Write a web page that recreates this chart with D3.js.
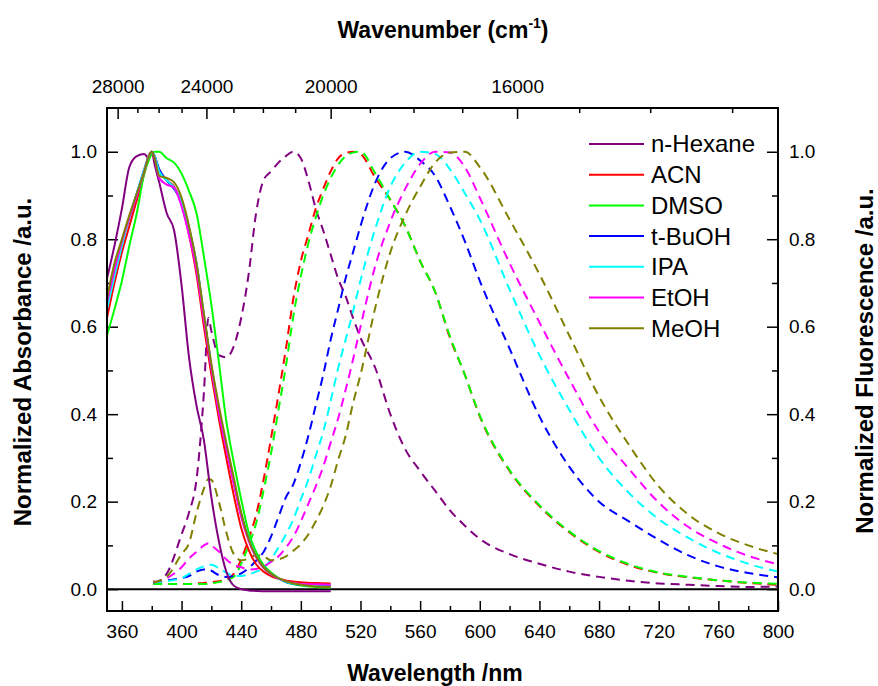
<!DOCTYPE html>
<html>
<head>
<meta charset="utf-8">
<script src="https://cdn.jsdelivr.net/npm/d3@7"></script>
<style>
  body { margin: 0; background: #fff; }
  text { font-family: "Liberation Sans", Arial, sans-serif; fill: #000; }
  .tick text { font-size: 19px; }
  .tick line { stroke: #000; stroke-width: 1.5; }
</style>
</head>
<body>
<div id="chart"></div>
<script>
// solvents and their line colours
const solvents = ["n-Hexane", "ACN", "DMSO", "t-BuOH", "IPA", "EtOH", "MeOH"];
const solventColors = ["#800080", "#ff0000", "#00ff00", "#0000ff", "#00ffff", "#ff00ff", "#808000"];

// absorbance (solid lines), wavelength in nm
const absWl = [350, 355, 360, 365, 370, 375, 378, 380, 382, 385, 390, 395, 400, 405, 410, 415, 420, 425, 430, 435, 440, 445, 450, 455, 460, 470, 480, 490, 500];
const absHexane = [0.71, 0.785, 0.87, 0.965, 0.99, 0.995, 0.985, 1.0, 0.97, 0.93, 0.86, 0.82, 0.695, 0.53, 0.42, 0.34, 0.21, 0.11, 0.04, 0.008, 0.0, -0.003, -0.004, -0.005, -0.005, -0.005, -0.005, -0.005, -0.005];
const absACN = [0.62, 0.70, 0.77, 0.83, 0.89, 0.95, 0.99, 1.0, 0.985, 0.955, 0.935, 0.92, 0.88, 0.81, 0.72, 0.6, 0.49, 0.39, 0.3, 0.215, 0.14, 0.09, 0.057, 0.04, 0.03, 0.02, 0.016, 0.014, 0.013];
const absDMSO = [0.58, 0.64, 0.705, 0.785, 0.86, 0.95, 0.98, 0.995, 1.0, 1.0, 0.985, 0.975, 0.95, 0.91, 0.86, 0.76, 0.65, 0.52, 0.385, 0.29, 0.205, 0.13, 0.085, 0.055, 0.038, 0.016, 0.008, 0.005, 0.004];
const absTBuOH = [0.645, 0.72, 0.79, 0.85, 0.905, 0.96, 0.99, 1.0, 0.99, 0.96, 0.935, 0.915, 0.885, 0.825, 0.745, 0.625, 0.51, 0.41, 0.325, 0.245, 0.17, 0.115, 0.075, 0.05, 0.035, 0.016, 0.01, 0.008, 0.007];
const absIPA = [0.64, 0.715, 0.785, 0.85, 0.905, 0.96, 0.99, 1.0, 0.99, 0.955, 0.935, 0.918, 0.885, 0.825, 0.745, 0.625, 0.51, 0.41, 0.325, 0.245, 0.172, 0.117, 0.076, 0.05, 0.035, 0.016, 0.01, 0.007, 0.006];
const absEtOH = [0.655, 0.73, 0.795, 0.85, 0.9, 0.955, 0.99, 1.0, 0.985, 0.94, 0.925, 0.918, 0.875, 0.81, 0.73, 0.615, 0.505, 0.405, 0.32, 0.24, 0.165, 0.11, 0.072, 0.048, 0.034, 0.018, 0.012, 0.011, 0.01];
const absMeOH = [0.665, 0.745, 0.8, 0.855, 0.905, 0.955, 0.99, 1.0, 0.985, 0.945, 0.94, 0.93, 0.895, 0.83, 0.745, 0.63, 0.515, 0.42, 0.335, 0.255, 0.175, 0.115, 0.075, 0.05, 0.035, 0.018, 0.01, 0.006, 0.005];

// fluorescence (dashed lines)
const emWl = [381, 390, 400, 405, 410, 415, 418, 420, 425, 430, 435, 440, 445, 450, 455, 460, 465, 470, 475, 480, 485, 490, 495, 500, 505, 510, 515, 520, 530, 540, 550, 560, 570, 580, 590, 600, 620, 640, 660, 680, 700, 720, 740, 760, 780, 800];
const emHexane = [0.012, 0.035, 0.125, 0.175, 0.25, 0.45, 0.62, 0.59, 0.535, 0.53, 0.555, 0.62, 0.72, 0.86, 0.935, 0.955, 0.975, 0.99, 1.0, 0.985, 0.935, 0.87, 0.82, 0.765, 0.71, 0.67, 0.62, 0.575, 0.505, 0.4, 0.32, 0.27, 0.225, 0.18, 0.145, 0.115, 0.08, 0.058, 0.04, 0.028, 0.019, 0.013, 0.01, 0.007, 0.005, 0.006];
const emACN = [0.018, 0.012, 0.012, 0.012, 0.013, 0.014, 0.015, 0.016, 0.018, 0.022, 0.035, 0.068, 0.115, 0.17, 0.25, 0.345, 0.445, 0.55, 0.665, 0.75, 0.81, 0.87, 0.915, 0.955, 0.985, 0.997, 1.0, 0.995, 0.94, 0.89, 0.83, 0.75, 0.68, 0.575, 0.49, 0.395, 0.27, 0.19, 0.13, 0.085, 0.055, 0.037, 0.027, 0.02, 0.014, 0.01];
const emDMSO = [0.012, 0.012, 0.012, 0.012, 0.012, 0.012, 0.012, 0.013, 0.016, 0.02, 0.028, 0.058, 0.1, 0.15, 0.225, 0.31, 0.41, 0.51, 0.625, 0.715, 0.79, 0.85, 0.9, 0.94, 0.97, 0.99, 0.998, 1.0, 0.95, 0.89, 0.83, 0.75, 0.68, 0.578, 0.49, 0.397, 0.272, 0.192, 0.132, 0.087, 0.057, 0.038, 0.028, 0.02, 0.015, 0.012];
const emTBuOH = [0.015, 0.02, 0.025, 0.03, 0.04, 0.045, 0.045, 0.042, 0.032, 0.028, 0.03, 0.036, 0.048, 0.065, 0.085, 0.12, 0.165, 0.21, 0.24, 0.29, 0.35, 0.42, 0.49, 0.57, 0.64, 0.71, 0.77, 0.83, 0.93, 0.985, 1.0, 0.98, 0.945, 0.875, 0.795, 0.705, 0.55, 0.395, 0.28, 0.2, 0.155, 0.113, 0.077, 0.052, 0.037, 0.027];
const emIPA = [0.015, 0.018, 0.025, 0.035, 0.045, 0.052, 0.056, 0.056, 0.048, 0.038, 0.03, 0.03, 0.034, 0.04, 0.048, 0.068, 0.095, 0.125, 0.16, 0.205, 0.25, 0.305, 0.36, 0.43, 0.505, 0.57, 0.635, 0.705, 0.825, 0.92, 0.975, 1.0, 0.995, 0.96, 0.905, 0.845, 0.685, 0.535, 0.41, 0.3, 0.22, 0.16, 0.117, 0.083, 0.058, 0.04];
const emEtOH = [0.015, 0.025, 0.05, 0.07, 0.085, 0.1, 0.105, 0.1, 0.086, 0.068, 0.056, 0.05, 0.045, 0.046, 0.052, 0.062, 0.075, 0.095, 0.12, 0.155, 0.195, 0.235, 0.28, 0.335, 0.39, 0.455, 0.525, 0.6, 0.74, 0.84, 0.915, 0.972, 1.0, 0.998, 0.965, 0.895, 0.745, 0.61, 0.48, 0.36, 0.275, 0.198, 0.142, 0.104, 0.076, 0.057];
const emMeOH = [0.015, 0.028, 0.08, 0.105, 0.174, 0.23, 0.252, 0.25, 0.2, 0.13, 0.08, 0.066, 0.07, 0.078, 0.075, 0.066, 0.068, 0.075, 0.088, 0.103, 0.125, 0.155, 0.19, 0.235, 0.295, 0.35, 0.425, 0.49, 0.645, 0.77, 0.855, 0.92, 0.975, 0.998, 1.0, 0.965, 0.845, 0.72, 0.58, 0.44, 0.33, 0.235, 0.17, 0.128, 0.1, 0.08];

// axis ticks
const wlTicks = [360, 400, 440, 480, 520, 560, 600, 640, 680, 720, 760, 800];
const wlMinor = [380, 420, 460, 500, 540, 580, 620, 660, 700, 740, 780];
const wnTicks = [28000, 24000, 20000, 16000];
const wnMinor = [27000, 26000, 25000, 23000, 22000, 21000, 19000, 18000, 17000, 15000, 14000, 13000];
const yTicks = [0, 0.2, 0.4, 0.6, 0.8, 1.0];
const yMinor = [0.1, 0.3, 0.5, 0.7, 0.9];

const absData = [absHexane, absACN, absDMSO, absTBuOH, absIPA, absEtOH, absMeOH];
const emData = [emHexane, emACN, emDMSO, emTBuOH, emIPA, emEtOH, emMeOH];

const width = 878, height = 686;
const plot = { left: 107, right: 778, top: 108, bottom: 611 };

const svg = d3.select("#chart").append("svg")
  .attr("width", width)
  .attr("height", height);

const x = d3.scaleLinear().domain([350, 800]).range([plot.left, plot.right]);
const y = d3.scaleLinear().domain([-0.05, 1.1]).range([plot.bottom, plot.top]);
// wavenumber = 1e7 / wavelength, so a pow scale with exponent -1 lines up with x
const xTop = d3.scalePow().exponent(-1).domain([1e7 / 350, 1e7 / 800]).range([plot.left, plot.right]);

svg.append("clipPath").attr("id", "plot-clip")
  .append("rect")
  .attr("x", plot.left).attr("y", plot.top)
  .attr("width", plot.right - plot.left).attr("height", plot.bottom - plot.top);

function addAxis(axis, transform) {
  const g = svg.append("g").attr("transform", transform).call(axis);
  g.select(".domain").remove();
  return g;
}

// bottom
addAxis(d3.axisBottom(x).tickValues(wlTicks).tickSize(-10).tickPadding(14).tickFormat(d3.format("d")),
  `translate(0,${plot.bottom})`);
addAxis(d3.axisBottom(x).tickValues(wlMinor).tickSize(-5).tickFormat(""), `translate(0,${plot.bottom})`);
// top (wavenumber)
addAxis(d3.axisTop(xTop).tickValues(wnTicks).tickSize(-11).tickPadding(15).tickFormat(d3.format("d")),
  `translate(0,${plot.top})`);
addAxis(d3.axisTop(xTop).tickValues(wnMinor).tickSize(-5).tickFormat(""), `translate(0,${plot.top})`);
// left
addAxis(d3.axisLeft(y).tickValues(yTicks).tickSize(-11).tickPadding(10).tickFormat(d3.format(".1f")),
  `translate(${plot.left},0)`);
addAxis(d3.axisLeft(y).tickValues(yMinor).tickSize(-6).tickFormat(""), `translate(${plot.left},0)`);
// right
addAxis(d3.axisRight(y).tickValues(yTicks).tickSize(-11).tickPadding(11).tickFormat(d3.format(".1f")),
  `translate(${plot.right},0)`);
addAxis(d3.axisRight(y).tickValues(yMinor).tickSize(-6).tickFormat(""), `translate(${plot.right},0)`);

// zero line
svg.append("line")
  .attr("x1", plot.left).attr("x2", plot.right)
  .attr("y1", y(0)).attr("y2", y(0))
  .attr("stroke", "#000").attr("stroke-width", 2);

const line = d3.line()
  .x(d => x(d[0]))
  .y(d => y(d[1]))
  .curve(d3.curveMonotoneX);

const series = solvents.map((name, i) => ({
  name: name,
  color: solventColors[i],
  abs: absWl.map((w, j) => [w, absData[i][j]]),
  em: emWl.map((w, j) => [w, emData[i][j]])
}));

const lines = svg.append("g").attr("clip-path", "url(#plot-clip)");

lines.selectAll(".em-line")
  .data(series)
  .join("path")
  .attr("class", "em-line")
  .attr("fill", "none")
  .attr("stroke", d => d.color)
  .attr("stroke-width", 2)
  .attr("stroke-dasharray", "9,6")
  .attr("d", d => line(d.em));

lines.selectAll(".abs-line")
  .data(series)
  .join("path")
  .attr("class", "abs-line")
  .attr("fill", "none")
  .attr("stroke", d => d.color)
  .attr("stroke-width", 2)
  .attr("d", d => line(d.abs));

// frame
svg.append("rect")
  .attr("x", plot.left).attr("y", plot.top)
  .attr("width", plot.right - plot.left).attr("height", plot.bottom - plot.top)
  .attr("fill", "none").attr("stroke", "#000").attr("stroke-width", 2);

// legend
const legend = svg.append("g").attr("transform", "translate(589,144)");
const legendRow = legend.selectAll(".legend-row")
  .data(series)
  .join("g")
  .attr("class", "legend-row")
  .attr("transform", (d, i) => `translate(0,${i * 30.7})`);
legendRow.append("line")
  .attr("x1", 0).attr("x2", 55)
  .attr("stroke", d => d.color).attr("stroke-width", 2);
legendRow.append("text")
  .attr("x", 62).attr("dy", "0.35em")
  .style("font-size", "24px")
  .text(d => d.name);

// axis titles
const topTitle = svg.append("text")
  .attr("x", 443).attr("y", 38)
  .attr("text-anchor", "middle")
  .style("font-size", "23px").style("font-weight", "bold");
topTitle.append("tspan").text("Wavenumber (cm");
topTitle.append("tspan").attr("dy", -10).style("font-size", "14px").text("-1");
topTitle.append("tspan").attr("dy", 10).text(")");

svg.append("text")
  .attr("x", 435).attr("y", 681)
  .attr("text-anchor", "middle")
  .style("font-size", "23px").style("font-weight", "bold")
  .text("Wavelength /nm");

svg.append("text")
  .attr("transform", "translate(31,362) rotate(-90)")
  .attr("text-anchor", "middle")
  .style("font-size", "24px").style("font-weight", "bold")
  .text("Normalized Absorbance /a.u.");

svg.append("text")
  .attr("transform", "translate(873,361) rotate(-90)")
  .attr("text-anchor", "middle")
  .style("font-size", "24px").style("font-weight", "bold")
  .text("Normalized Fluorescence /a.u.");
</script>
</body>
</html>
